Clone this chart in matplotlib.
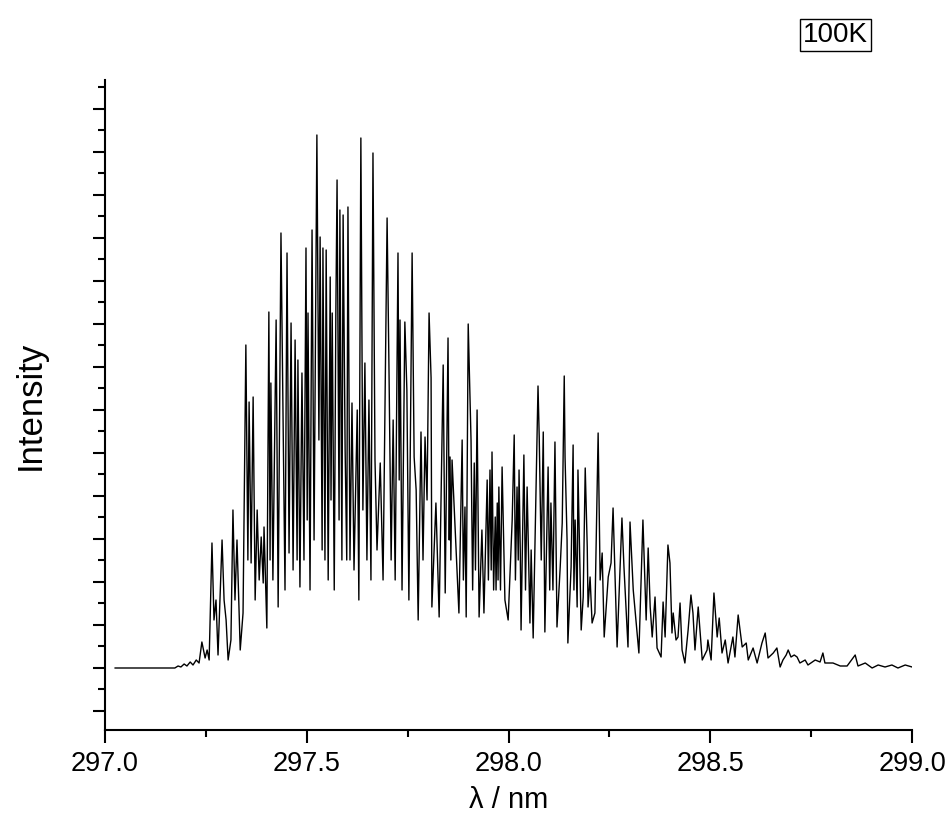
import matplotlib
matplotlib.use("Agg")
import matplotlib.pyplot as plt
from matplotlib.ticker import MultipleLocator, FormatStrFormatter

plt.rcParams['font.family'] = ['Liberation Sans', 'DejaVu Sans']

# Emission spectrum at 100 K: wavelength (nm) and intensity (arbitrary units),
# split into the onset, the strong core, the middle band and the weak tail.
onset_wl = [
    297.025, 297.173, 297.181, 297.188, 297.196, 297.203, 297.211, 297.218, 297.226, 297.233,
    297.240, 297.248, 297.253, 297.258, 297.265, 297.270, 297.275, 297.280, 297.290, 297.295,
    297.300, 297.305, 297.312, 297.317, 297.322, 297.327, 297.335, 297.342,
]
onset_int = [
    0, 0, 2, 1, 4, 2, 6, 3, 8, 5,
    26, 10, 18, 8, 125, 48, 68, 13, 128, 68,
    48, 8, 28, 158, 68, 128, 18, 55,
]

core_wl = [
    297.349, 297.354, 297.357, 297.362, 297.367, 297.372, 297.377, 297.382, 297.387, 297.392,
    297.394, 297.401, 297.406, 297.409, 297.411, 297.416, 297.424, 297.429, 297.436, 297.441,
    297.446, 297.451, 297.456, 297.461, 297.466, 297.471, 297.476, 297.478, 297.483, 297.488,
    297.493, 297.498, 297.501, 297.503, 297.508, 297.513, 297.518, 297.525, 297.530, 297.533,
    297.538, 297.540, 297.545, 297.548, 297.553, 297.558, 297.560, 297.563, 297.568, 297.572,
    297.575, 297.580, 297.582, 297.587, 297.590, 297.595, 297.599, 297.602, 297.607, 297.612,
    297.617, 297.625, 297.629, 297.634, 297.639, 297.644, 297.649, 297.654, 297.659, 297.664,
    297.669, 297.674, 297.682, 297.689, 297.699, 297.704, 297.709, 297.714, 297.719, 297.726,
    297.729, 297.731, 297.736, 297.743, 297.748, 297.753,
]
core_int = [
    323, 108, 266, 105, 271, 68, 158, 88, 131, 85,
    141, 40, 356, 108, 285, 88, 348, 61, 435, 258,
    78, 415, 115, 345, 98, 328, 108, 308, 81, 295,
    108, 420, 148, 355, 78, 438, 128, 533, 228, 431,
    118, 420, 108, 418, 88, 391, 168, 355, 78, 355,
    488, 148, 458, 108, 453, 218, 108, 461, 108, 265,
    98, 258, 68, 530, 158, 305, 108, 268, 88, 515,
    208, 118, 205, 88, 450, 288, 108, 248, 88, 415,
    188, 348, 78, 346, 278, 68,
]

mid_wl = [
    297.761, 297.766, 297.771, 297.776, 297.783, 297.788, 297.793, 297.798, 297.803, 297.808,
    297.810, 297.820, 297.828, 297.838, 297.843, 297.850, 297.853, 297.855, 297.857, 297.860,
    297.867, 297.877, 297.885, 297.888, 297.892, 297.895, 297.900, 297.907, 297.911, 297.915,
    297.918, 297.922, 297.927, 297.934, 297.939, 297.947, 297.950, 297.954, 297.957, 297.959,
    297.963, 297.967, 297.969, 297.972, 297.974, 297.976, 297.980, 297.984, 297.991, 297.999,
    298.009, 298.014, 298.017, 298.021, 298.024, 298.026, 298.029, 298.031, 298.038, 298.042,
    298.046, 298.053, 298.056, 298.061, 298.073, 298.076, 298.081, 298.086, 298.090, 298.098,
    298.102, 298.105, 298.110, 298.115, 298.120, 298.128, 298.133, 298.138, 298.140, 298.145,
    298.147, 298.155, 298.160, 298.162, 298.165, 298.170, 298.172, 298.180, 298.185, 298.190,
    298.195, 298.197, 298.202, 298.207, 298.214, 298.222, 298.227, 298.232, 298.237,
]
mid_int = [
    415, 211, 178, 48, 236, 108, 231, 168, 355, 290,
    61, 165, 51, 303, 75, 330, 128, 211, 108, 208,
    145, 55, 228, 88, 161, 51, 344, 228, 78, 205,
    98, 258, 51, 138, 55, 188, 88, 198, 98, 216,
    78, 151, 78, 165, 88, 181, 78, 201, 68, 48,
    148, 233, 88, 181, 108, 198, 118, 38, 213, 78,
    181, 45, 118, 30, 282, 231, 108, 236, 36, 201,
    78, 165, 78, 226, 41, 101, 145, 292, 211, 128,
    25, 101, 223, 78, 148, 61, 198, 38, 71, 200,
    121, 61, 91, 45, 55, 235, 88, 115, 31,
]

tail_wl = [
    298.247, 298.254, 298.259, 298.269, 298.281, 298.286, 298.296, 298.301, 298.309, 298.323,
    298.333, 298.341, 298.346, 298.351, 298.356, 298.363, 298.368, 298.378, 298.383, 298.388,
    298.395, 298.400, 298.405, 298.408, 298.415, 298.420, 298.425, 298.430, 298.437, 298.445,
    298.452, 298.457, 298.462, 298.470, 298.480, 298.492, 298.494, 298.502, 298.509, 298.517,
    298.522, 298.529, 298.537, 298.544, 298.556, 298.561, 298.569, 298.579, 298.589, 298.594,
    298.606, 298.616, 298.628, 298.636, 298.643, 298.656, 298.665, 298.673, 298.680, 298.688,
    298.693, 298.700, 298.708, 298.715, 298.722, 298.735, 298.742, 298.760, 298.772, 298.779,
    298.784, 298.804, 298.822, 298.839, 298.859, 298.866, 298.884, 298.901, 298.916, 298.933,
    298.950, 298.965, 298.983, 299.000,
]
tail_int = [
    91, 105, 160, 21, 150, 101, 21, 146, 78, 15,
    148, 48, 120, 61, 31, 71, 20, 11, 66, 31,
    123, 105, 35, 55, 28, 31, 65, 18, 5, 38,
    73, 55, 18, 61, 8, 18, 28, 8, 75, 31,
    50, 15, 28, 5, 31, 11, 53, 21, 25, 8,
    20, 5, 25, 35, 10, 15, 20, 1, 8, 13,
    18, 11, 13, 11, 5, 8, 3, 8, 6, 15,
    5, 5, 2, 2, 13, 2, 5, 0, 3, 1,
    3, 0, 3, 1,
]

wavelength = onset_wl + core_wl + mid_wl + tail_wl
intensity = onset_int + core_int + mid_int + tail_int

fig = plt.figure(figsize=(9.48, 8.34), dpi=100)
ax = fig.add_axes([0.1108, 0.1247, 0.8513, 0.7794])

ax.plot(wavelength, intensity, color='black', linewidth=1.0)

ax.set_xlim(297.0, 299.0)
ax.set_ylim(-62, 588)

ax.xaxis.set_major_locator(MultipleLocator(0.5))
ax.xaxis.set_minor_locator(MultipleLocator(0.25))
ax.xaxis.set_major_formatter(FormatStrFormatter('%.1f'))
ax.yaxis.set_major_locator(MultipleLocator(43))
ax.yaxis.set_minor_locator(MultipleLocator(21.5))
ax.yaxis.set_ticklabels([])

ax.spines['top'].set_visible(False)
ax.spines['right'].set_visible(False)
for s in ('left', 'bottom'):
    ax.spines[s].set_linewidth(1.5)

ax.tick_params(axis='both', which='major', direction='out', length=9, width=1.5,
               labelsize=19.5, pad=6)
ax.tick_params(axis='both', which='minor', direction='out', length=5, width=1.5)

ax.set_xlabel('λ / nm', fontsize=21, va='center')
ax.xaxis.set_label_coords(0.5, -0.108)
ax.set_ylabel('Intensity', fontsize=25, va='center')
ax.yaxis.set_label_coords(-0.093, 0.5)

fig.text(0.9155, 0.958, '100K', fontsize=20, ha='right', va='center',
         bbox=dict(boxstyle='square,pad=0.12', facecolor='white',
                   edgecolor='black', linewidth=1.0))

fig.savefig('out.png', dpi=100)
